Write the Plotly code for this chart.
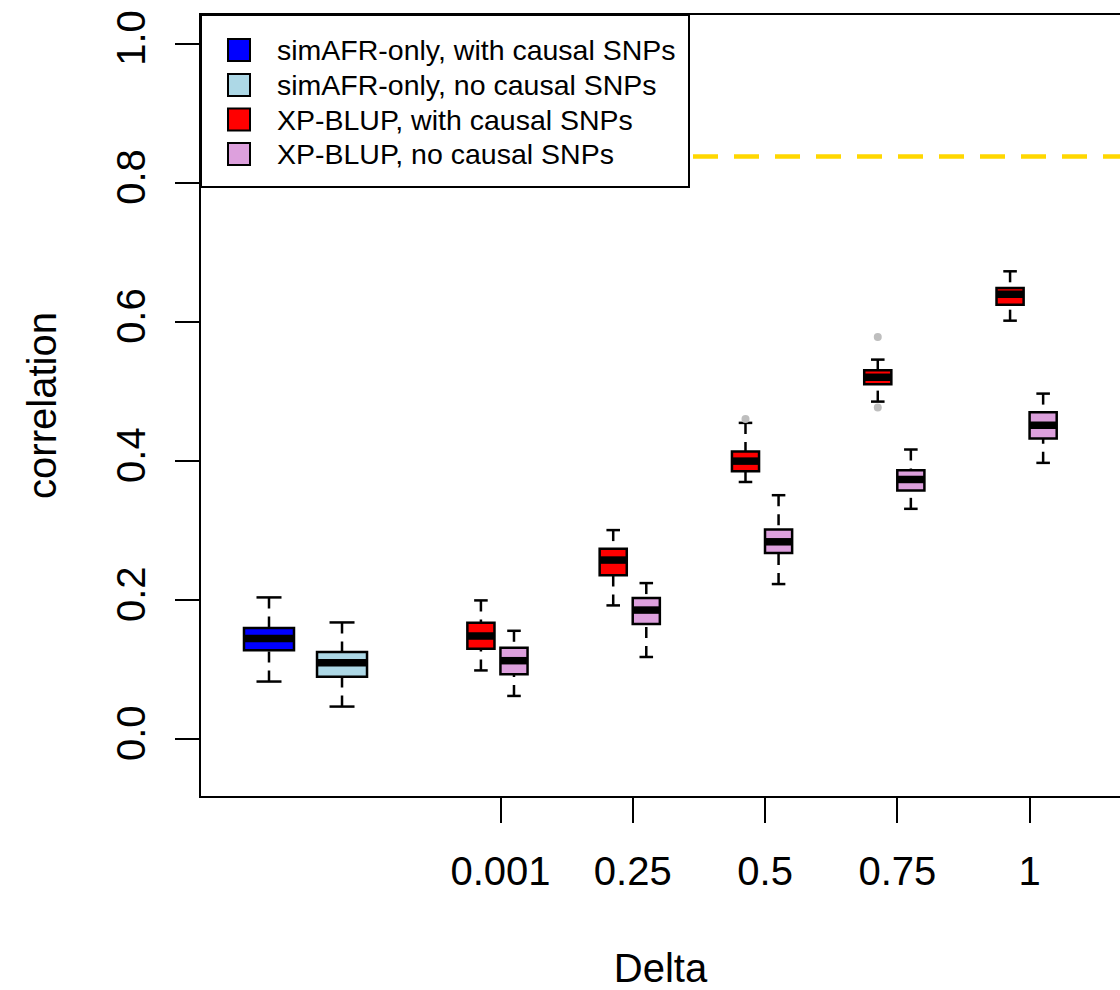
import plotly.graph_objects as go

# ---------------- data ----------------
delta_labels = ["0.001", "0.25", "0.5", "0.75", "1"]
series_names = [
    "simAFR-only, with causal SNPs",
    "simAFR-only, no causal SNPs",
    "XP-BLUP, with causal SNPs",
    "XP-BLUP, no causal SNPs",
]
series_colors = ["#0000FF", "#ADD8E6", "#FF0000", "#DDA0DD"]

# simAFR-only boxes: [with causal SNPs, no causal SNPs]
afr_lo = [0.083, 0.047]
afr_q1 = [0.128, 0.090]
afr_med = [0.145, 0.110]
afr_q3 = [0.160, 0.1255]
afr_hi = [0.204, 0.168]

# XP-BLUP with causal SNPs, per Delta
xpw_lo = [0.099, 0.1925, 0.370, 0.4856, 0.602]
xpw_q1 = [0.130, 0.236, 0.3855, 0.5105, 0.625]
xpw_med = [0.1485, 0.2577, 0.400, 0.5206, 0.640]
xpw_q3 = [0.1676, 0.274, 0.4138, 0.5306, 0.649]
xpw_hi = [0.1997, 0.3008, 0.455, 0.546, 0.673]
xpw_out = [[], [], [0.4607], [0.5786, 0.477], []]

# XP-BLUP no causal SNPs, per Delta
xpn_lo = [0.0623, 0.1183, 0.2232, 0.3314, 0.3975]
xpn_q1 = [0.0934, 0.1657, 0.268, 0.3578, 0.4325]
xpn_med = [0.113, 0.1858, 0.284, 0.3736, 0.4516]
xpn_q3 = [0.1317, 0.2031, 0.3017, 0.387, 0.4703]
xpn_hi = [0.156, 0.2246, 0.351, 0.4167, 0.4971]

target_corr = 0.838   # dashed reference line

# ---------------- layout constants ----------------
W, H = 1120, 990
ML, MR, MT, MB = 201, 0, 15, 194
PW, PH = W - ML - MR, H - MT - MB
FONT = "Liberation Sans, Arial, Helvetica, sans-serif"

afr_pos = [-1.750, -1.198]
afr_width = 0.378
xp_offset_with, xp_offset_no = -0.148, 0.102
xp_width = 0.205
lw = 2.5

fig = go.Figure()


def add_group(color, pos, lo, q1, med, q3, hi, width):
    fig.add_trace(go.Box(
        x=pos, q1=q1, median=med, q3=q3, lowerfence=q1, upperfence=q3,
        width=width, fillcolor=color, line=dict(color="black", width=lw),
        whiskerwidth=0, boxpoints=False, showlegend=False, hoverinfo="skip",
    ))
    wx, wy, sx, sy, mx, my = [], [], [], [], [], []
    for p, a, b, m, c, d in zip(pos, lo, q1, med, q3, hi):
        wx += [p, p, None, p, p, None]
        wy += [d, c, None, a, b, None]
        sx += [p - width / 4, p + width / 4, None, p - width / 4, p + width / 4, None]
        sy += [d, d, None, a, a, None]
        mx += [p - width / 2, p + width / 2, None]
        my += [m, m, None]
    fig.add_trace(go.Scatter(x=wx, y=wy, mode="lines", showlegend=False, hoverinfo="skip",
                             line=dict(color="black", width=lw, dash="11px,8px")))
    fig.add_trace(go.Scatter(x=sx, y=sy, mode="lines", showlegend=False, hoverinfo="skip",
                             line=dict(color="black", width=lw)))
    fig.add_trace(go.Scatter(x=mx, y=my, mode="lines", showlegend=False, hoverinfo="skip",
                             line=dict(color="black", width=7.5)))


add_group(series_colors[0], [afr_pos[0]], [afr_lo[0]], [afr_q1[0]], [afr_med[0]],
          [afr_q3[0]], [afr_hi[0]], afr_width)
add_group(series_colors[1], [afr_pos[1]], [afr_lo[1]], [afr_q1[1]], [afr_med[1]],
          [afr_q3[1]], [afr_hi[1]], afr_width)

idx = list(range(len(delta_labels)))
add_group(series_colors[2], [i + xp_offset_with for i in idx],
          xpw_lo, xpw_q1, xpw_med, xpw_q3, xpw_hi, xp_width)
add_group(series_colors[3], [i + xp_offset_no for i in idx],
          xpn_lo, xpn_q1, xpn_med, xpn_q3, xpn_hi, xp_width)

ox, oy = [], []
for i, outs in enumerate(xpw_out):
    for v in outs:
        ox.append(i + xp_offset_with)
        oy.append(v)
fig.add_trace(go.Scatter(x=ox, y=oy, mode="markers", showlegend=False, hoverinfo="skip",
                         marker=dict(color="#BEBEBE", size=8)))

# dashed reference line
fig.add_hline(y=target_corr, line=dict(color="#FFD700", width=4.5, dash="25px,16px"))

# ---------------- legend box (top-left) ----------------
def px_x(px):
    return (px - ML) / PW


def px_y(py):
    return (H - MB - py) / PH


fig.add_shape(type="rect", xref="paper", yref="paper",
              x0=px_x(ML), x1=px_x(689), y0=px_y(187), y1=px_y(MT),
              line=dict(color="black", width=2), fillcolor="white", layer="above")
row_y = [50, 85, 119.5, 154]
for name, col, ry in zip(series_names, series_colors, row_y):
    fig.add_shape(type="rect", xref="paper", yref="paper",
                  x0=px_x(228), x1=px_x(250), y0=px_y(ry + 11), y1=px_y(ry - 11),
                  line=dict(color="black", width=2), fillcolor=col, layer="above")
    fig.add_annotation(x=px_x(275), y=px_y(ry), xref="paper", yref="paper",
                       text=name, showarrow=False, xanchor="left", yanchor="middle",
                       font=dict(size=28.5, color="black", family=FONT))

fig.update_layout(
    width=W, height=H,
    margin=dict(l=ML, r=MR, t=MT, b=MB, pad=0),
    paper_bgcolor="white", plot_bgcolor="white",
    font=dict(family=FONT, color="black", size=40),
    showlegend=False,
    boxmode="overlay",
)
fig.update_xaxes(
    range=[-2.264, 4.683], tickmode="array", tickvals=idx, ticktext=delta_labels,
    showgrid=False, zeroline=False, showline=True, linecolor="black", linewidth=2,
    mirror=True, ticks="outside", ticklen=25, tickwidth=2, tickcolor="black",
    tickfont=dict(size=40), ticklabelstandoff=14,
    title=dict(text="Delta", font=dict(size=40), standoff=65),
)
fig.update_yaxes(
    range=[-0.0816, 1.0416], tickmode="array", tickvals=[0, 0.2, 0.4, 0.6, 0.8, 1.0],
    ticktext=["0.0", "0.2", "0.4", "0.6", "0.8", "1.0"],
    showgrid=False, zeroline=False, showline=True, linecolor="black", linewidth=2,
    ticks="outside", ticklen=24, tickwidth=2, tickcolor="black", tickangle=-90,
    tickfont=dict(size=40), ticklabelstandoff=14,
    title=dict(text="correlation", font=dict(size=40), standoff=40),
)

fig.write_html("out.html")
